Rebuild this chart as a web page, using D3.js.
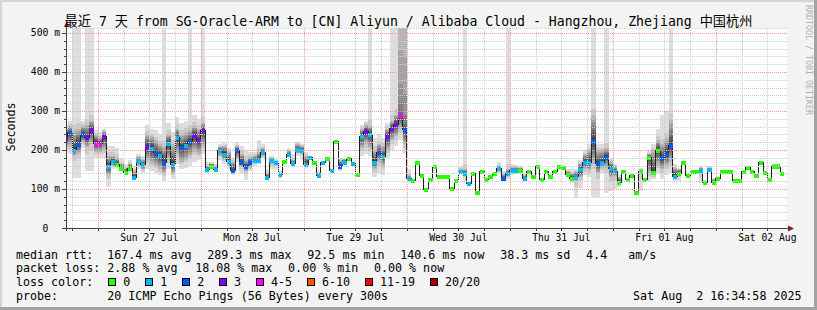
<!DOCTYPE html>
<html>
<head>
<meta charset="utf-8">
<script src="https://cdn.jsdelivr.net/npm/d3@7"></script>
<style>
  body { margin: 0; background: #f3f3f3; }
  svg { display: block; }
  text { font-family: "DejaVu Sans Mono", "Noto Sans CJK SC", monospace; white-space: pre; }
</style>
</head>
<body>
<div id="chart"></div>
<script>
const width = 817;
const height = 310;
const plot = { left: 66, right: 787, top: 28, bottom: 228 };
const yTop = 512.8;          // ms at the top edge of the canvas
const charW = 7.02;          // legend char advance

const title = "最近 7 天 from SG-Oracle-ARM to [CN] Aliyun / Alibaba Cloud - Hangzhou, Zhejiang 中国杭州";
const start = new Date(Date.UTC(2025, 6, 26, 16, 34, 58));
const end = new Date(Date.UTC(2025, 7, 2, 16, 34, 58));
const firstBin = Date.UTC(2025, 6, 26, 16, 0, 0);   // hourly bins
const yTicks = [0, 100, 200, 300, 400, 500];

// median rtt per hour (ms)
const medians = [
  230, 245, 200, 216, 241, 233, 252, 219,
  218, 236, 159, 173, 164, 153, 144, 155, 132, 175, 164, 211, 206, 194, 188, 168, 218, 164, 233, 207, 213, 224, 239, 226,
  250, 151, 160, 151, 200, 191, 172, 149, 200, 170, 158, 168, 175, 175, 195, 132, 174, 168, 138, 172, 190, 166, 202, 201,
  165, 181, 168, 137, 169, 179, 149, 222, 159, 170, 180, 166, 138, 236, 248, 241, 169, 194, 185, 236, 256, 267, 289.3, 254,
  128, 123, 168, 136, 100, 125, 158, 134, 134, 134, 102, 123, 146, 142, 115, 142, 93, 145, 125, 134, 142, 153, 129, 141,
  148, 149, 149, 129, 146, 134, 158, 125, 146, 134, 145, 160, 156, 139, 129, 134, 151, 170, 170, 224, 166, 169, 183, 153,
  145, 119, 146, 126, 136, 92.5, 146, 125, 183, 143, 200, 181, 190, 213, 134, 142, 169, 137, 145, 147, 149, 117, 151, 117,
  128, 147, 145, 147, 123, 123, 147, 156, 147, 135, 169, 144, 125, 159, 160, 140.6
];

// lost pings (of 20) per hour
const lostPings = [
  3, 2, 1, 2, 2, 3, 3, 4,
  4, 3, 1, 1, 0, 0, 0, 0, 1, 1, 1, 3, 1, 2, 1, 2, 1, 1, 1, 2, 1, 2, 3, 3,
  3, 1, 0, 1, 1, 1, 1, 2, 2, 2, 2, 2, 1, 1, 1, 1, 1, 1, 1, 0, 1, 1, 1, 1,
  1, 1, 0, 1, 1, 0, 1, 0, 2, 1, 0, 1, 0, 1, 3, 1, 1, 2, 1, 3, 3, 3, 4, 2,
  1, 0, 0, 0, 0, 0, 0, 0, 0, 0, 0, 0, 1, 1, 1, 0, 0, 0, 0, 0, 0, 1, 2, 1,
  1, 1, 0, 1, 0, 0, 0, 0, 0, 0, 0, 0, 0, 0, 0, 1, 1, 1, 1, 2, 2, 1, 2, 1,
  1, 0, 0, 0, 0, 0, 0, 0, 0, 0, 0, 2, 2, 2, 1, 0, 0, 0, 0, 0, 1, 0, 1, 0,
  0, 0, 0, 0, 0, 0, 0, 0, 0, 0, 0, 0, 0, 0, 0, 0
];

// smoke: lowest, 3rd lowest, 3rd highest, highest ping per hour (ms); _ = no visible smoke
const _ = null;
const pingMin = [
  195, 190, 128, 128, 205, 145, 145, 180,
  180, 180, 106, 150, 155, 145, 138, 148, 125, 150, 140, 150, 145, 140, 135, 120, 150, 125, 165, 150, 155, 160, 170, 175,
  190, 140, 155, 145, 175, 165, 150, 135, 170, 140, 123, 145, 160, 165, 180, 123, 150, 150, 128, _, 183, 160, 185, 175,
  155, _, _, 130, _, _, _, _, 145, 163, _, _, _, 185, 190, 185, 130, 140, 135, 180, 200, 210, 225, 190,
  120, _, _, _, _, _, _, _, _, _, _, _, 140, 119, _, _, _, _, _, _, _, 140, 120, 125,
  135, 138, 140, 122, _, _, _, _, _, _, _, _, _, 132, 115, 78, 103, 135, 130, 80, 78, 140, 90, 95,
  100, 105, _, _, _, _, 95, _, 120, 125, 140, 125, 135, 140, 120, 120, _, _, _, _, 115, 113, 145, 110,
  _, _, _, _, _, _, _, _, _, _, _, _, _, 155, 156, _
];
const pingLow = [
  210, 210, 185, 190, 220, 205, 215, 195,
  195, 200, 135, 160, 160, 150, 142, 152, 128, 160, 150, 175, 165, 160, 150, 140, 175, 140, 190, 170, 175, 185, 195, 190,
  210, 145, 157, 148, 185, 175, 160, 140, 180, 158, 145, 155, 168, 170, 185, 126, 165, 162, 133, _, 186, 163, 192, 192,
  160, _, _, 134, _, _, _, _, 152, 166, _, _, _, 205, 215, 205, 150, 170, 160, 200, 225, 235, 255, 215,
  124, _, _, _, _, _, _, _, _, _, _, _, 143, 138, _, _, _, _, _, _, _, 146, 124, 135,
  140, 143, 144, 125, _, _, _, _, _, _, _, _, _, 135, 122, 120, 130, 150, 148, 165, 140, 155, 155, 130,
  133, 112, _, _, _, _, 140, _, 140, 135, 160, 150, 160, 170, 128, 135, _, _, _, _, 140, 115, 148, 112,
  _, _, _, _, _, _, _, _, _, _, _, _, _, 157, 158, _
];
const pingHigh = [
  255, 262, 250, 255, 262, 265, 275, 240,
  232, 248, 185, 185, 180, 165, 155, 165, 145, 182, 175, 240, 235, 225, 215, 210, 240, 215, 255, 240, 245, 250, 262, 255,
  270, 160, 165, 158, 208, 210, 195, 170, 210, 190, 175, 182, 185, 195, 205, 140, 180, 172, 142, _, 198, 175, 215, 210,
  185, _, _, 141, _, _, _, _, 175, 176, _, _, _, 255, 265, 262, 200, 215, 210, 255, 275, 290, 600, 600,
  135, _, _, _, _, _, _, _, _, _, _, _, 150, 150, _, _, _, _, _, _, _, 160, 138, 150,
  156, 156, 154, 135, _, _, _, _, _, _, _, _, _, 145, 141, 145, 165, 190, 200, 290, 200, 200, 205, 170,
  158, 130, _, _, _, _, 150, _, 190, 200, 225, 215, 230, 280, 155, 150, _, _, _, _, 155, 120, 155, 125,
  _, _, _, _, _, _, _, _, _, _, _, _, _, 163, 163, _
];
const pingMax = [
  265, 275, 600, 600, 275, 600, 600, 250,
  245, 255, 210, 210, 205, 180, 165, 175, 160, 190, 185, 265, 255, 250, 240, 600, 270, 245, 285, 270, 275, 600, 290, 280,
  600, 170, 170, 165, 215, 218, 205, 180, 220, 210, 200, 195, 195, 226, 215, 150, 185, 178, 148, _, 205, 190, 220, 215,
  195, _, _, 145, _, _, _, _, 180, 180, _, _, _, 265, 275, 600, 230, 240, 230, 270, 600, 600, 600, 600,
  150, _, _, _, _, _, _, _, _, _, _, _, 160, 600, _, _, _, _, _, _, _, 168, 145, 600,
  165, 162, 160, 140, _, _, _, _, _, _, _, _, _, 150, 150, 150, 175, 200, 215, 600, 215, 215, 600, 180,
  165, 135, _, _, _, _, 155, _, 200, 215, 255, 290, 300, 600, 165, 155, _, _, _, _, 159, 123, 159, 128,
  _, _, _, _, _, _, _, _, _, _, _, _, _, 165, 166, _
];

const lossColors = ["#26ff00", "#00b8ff", "#0059ff", "#7e00ff", "#ff00ff", "#ff5500", "#ff0000", "#a10000"];
const lossLabels = ["0", "1", "2", "3", "4-5", "6-10", "11-19", "20/20"];

const legendRtt = [["median rtt:", 16], ["167.4 ms avg", 107.3], ["289.3 ms max", 207.3], ["92.5 ms min", 307.3],
                   ["140.6 ms now", 400.2], ["38.3 ms sd", 500.2], ["4.4   am/s", 586.1]];
const legendLoss = [["packet loss:", 16], ["2.88 % avg", 107.3], ["18.08 % max", 195.2], ["0.00 % min", 288.1], ["0.00 % now", 374]];

function lossClass(n) {
  if (n <= 3) return n;
  if (n <= 5) return 4;
  if (n <= 10) return 5;
  if (n <= 19) return 6;
  return 7;
}

const x = d3.scaleUtc().domain([start, end]).range([plot.left, plot.right]);
const y = d3.scaleLinear().domain([0, yTop]).range([plot.bottom, plot.top]).clamp(true);
const binTime = i => new Date(firstBin + i * 3600e3);
const bx0 = i => Math.max(plot.left, x(binTime(i)));
const bx1 = i => Math.min(plot.right, x(binTime(i + 1)));

const svg = d3.select("#chart")
  .append("svg")
    .attr("width", width)
    .attr("height", height)
    .attr("viewBox", [0, 0, width, height]);

// canvas + frame
svg.append("rect").attr("width", width).attr("height", height).attr("fill", "#f3f3f3");
svg.append("rect").attr("width", width).attr("height", 2).attr("fill", "#d4d4d4");
svg.append("rect").attr("width", 2).attr("height", height).attr("fill", "#d4d4d4");
svg.append("rect").attr("y", height - 3).attr("width", width).attr("height", 3).attr("fill", "#a2a2a2");
svg.append("rect").attr("x", width - 3).attr("width", 3).attr("height", height).attr("fill", "#a2a2a2");

svg.append("rect")
  .attr("x", plot.left).attr("y", plot.top)
  .attr("width", plot.right - plot.left).attr("height", plot.bottom - plot.top)
  .attr("fill", "#fff");

svg.append("clipPath").attr("id", "clip")
  .append("rect")
    .attr("x", plot.left).attr("y", plot.top)
    .attr("width", plot.right - plot.left).attr("height", plot.bottom - plot.top);

const bins = d3.range(medians.length);

// smoke: band k spans k-th lowest .. k-th highest ping, lighter outside
const smoke = [];
bins.forEach(i => {
  if (pingMin[i] == null) return;
  const m = medians[i], lo = pingLow[i], hi = pingHigh[i], mn = pingMin[i], mx = pingMax[i];
  const pUp = hi - m > 120 ? 4 : 1;     // many pings off the scale: keep the dark core tight
  smoke.push({ i, k: 1, a: mn, b: mx });
  smoke.push({ i, k: 2, a: lo - Math.min(lo - mn, 40) * 0.35, b: hi + Math.min(mx - hi, 40) * 0.35 });
  for (let k = 3; k <= 9; k++) {
    const f = (10 - k) / 7;
    smoke.push({ i, k, a: m + (lo - m) * f, b: m + (hi - m) * Math.pow(f, pUp) });
  }
});
smoke.sort((p, q) => p.k - q.k);

const gPlot = svg.append("g").attr("clip-path", "url(#clip)");
gPlot.append("g").attr("shape-rendering", "crispEdges")
  .selectAll("rect")
  .data(smoke)
  .enter().append("rect")
    .attr("x", d => bx0(d.i))
    .attr("width", d => bx1(d.i) - bx0(d.i))
    .attr("y", d => y(d.b))
    .attr("height", d => Math.max(0, y(d.a) - y(d.b)))
    .attr("fill", d => { const g = Math.round(190 / 10 * (10 - d.k) + 50); return d3.rgb(g, g, g); });

// grid
const grid = svg.append("g").attr("fill", "none").attr("stroke-dasharray", "1,1");
const minorY = d3.range(20, 520, 20).filter(v => v % 100 !== 0);
grid.selectAll(".hmin").data(minorY.concat([yTop])).enter().append("line")
  .attr("x1", plot.left).attr("x2", plot.right)
  .attr("y1", d => Math.round(y(d)) + 0.5).attr("y2", d => Math.round(y(d)) + 0.5)
  .attr("stroke", "#cfcfcf");
const hours6 = d3.utcHour.every(6).range(start, end).filter(d => d.getUTCHours() !== 0);
grid.selectAll(".vmin").data(hours6).enter().append("line")
  .attr("x1", d => Math.round(x(d)) + 0.5).attr("x2", d => Math.round(x(d)) + 0.5)
  .attr("y1", plot.top).attr("y2", plot.bottom)
  .attr("stroke", "#cfcfcf");
grid.selectAll(".hmaj").data(yTicks.filter(v => v > 0)).enter().append("line")
  .attr("x1", plot.left).attr("x2", plot.right)
  .attr("y1", d => Math.round(y(d)) + 0.5).attr("y2", d => Math.round(y(d)) + 0.5)
  .attr("stroke", "#f09a9a");
const days = d3.utcDay.range(start, end);
grid.selectAll(".vmaj").data(days).enter().append("line")
  .attr("x1", d => Math.round(x(d)) + 0.5).attr("x2", d => Math.round(x(d)) + 0.5)
  .attr("y1", plot.top).attr("y2", plot.bottom)
  .attr("stroke", "#f09a9a");

// median line
const linePts = bins.map(i => [binTime(i), medians[i]]);
linePts.push([binTime(medians.length), medians[medians.length - 1]]);
gPlot.append("path")
  .datum(linePts)
  .attr("fill", "none")
  .attr("stroke", "#202020")
  .attr("stroke-width", 1)
  .attr("shape-rendering", "crispEdges")
  .attr("d", d3.line().x(d => x(d[0])).y(d => Math.round(y(d[1])) + 0.5).curve(d3.curveStepAfter));

// loss coloured median marks
gPlot.append("g").attr("shape-rendering", "crispEdges")
  .selectAll("rect")
  .data(bins)
  .enter().append("rect")
    .attr("x", i => bx0(i))
    .attr("width", i => bx1(i) - bx0(i))
    .attr("y", i => Math.round(y(medians[i])) - 1.5)
    .attr("height", 4)
    .attr("fill", i => lossColors[lossClass(lostPings[i])]);

// axes
const axis = svg.append("g").attr("stroke", "#404040").attr("shape-rendering", "crispEdges");
axis.append("line").attr("x1", plot.left + 0.5).attr("x2", plot.left + 0.5).attr("y1", plot.bottom + 3).attr("y2", 23);
axis.append("line").attr("x1", plot.left - 4).attr("x2", plot.right + 3).attr("y1", plot.bottom + 0.5).attr("y2", plot.bottom + 0.5);
axis.selectAll(".ty").data(d3.range(20, 520, 20)).enter().append("line")
  .attr("x1", d => d % 100 === 0 ? plot.left - 4 : plot.left - 2).attr("x2", plot.left)
  .attr("y1", d => Math.round(y(d)) + 0.5).attr("y2", d => Math.round(y(d)) + 0.5);
axis.selectAll(".tx").data(d3.utcHour.every(6).range(start, end)).enter().append("line")
  .attr("x1", d => Math.round(x(d)) + 0.5).attr("x2", d => Math.round(x(d)) + 0.5)
  .attr("y1", plot.bottom).attr("y2", plot.bottom + 3);
svg.append("path").attr("fill", "#8e1b1b")
  .attr("d", `M${plot.left - 2},27L${plot.left + 3},27L${plot.left + 0.5},21Z`);
svg.append("path").attr("fill", "#8e1b1b")
  .attr("d", `M${plot.right + 1},225.5L${plot.right + 1},231.5L${plot.right + 7},228.5Z`);

// tick labels
svg.append("g").selectAll("text").data(yTicks).enter().append("text")
  .attr("x", 60).attr("y", d => y(d) + 3.5)
  .attr("text-anchor", "end").attr("font-size", "9.7px").attr("fill", "#000")
  .text(d => d === 0 ? "0  " : d + " m");
const noons = d3.utcDay.range(d3.utcDay.floor(start), end)
  .map(d => d3.utcHour.offset(d, 12))
  .filter(d => d > start && d < end);
svg.append("g").selectAll("text").data(noons).enter().append("text")
  .attr("x", d => x(d)).attr("y", 240.7)
  .attr("text-anchor", "middle").attr("font-size", "9.7px").attr("fill", "#000")
  .text(d3.utcFormat("%a %d %b"));

// title, y label, watermark
svg.append("text").attr("x", 408.5).attr("y", 26).attr("text-anchor", "middle")
  .attr("font-size", "13.2px").attr("fill", "#000").text(title);
svg.append("text").attr("transform", "translate(15,127) rotate(-90)")
  .attr("text-anchor", "middle").attr("font-size", "11.66px").attr("fill", "#000").text("Seconds");
svg.append("text").attr("transform", "translate(805.5,5) rotate(90)")
  .attr("font-size", "8.3px").attr("fill", "#b0b0b0").text("RRDTOOL / TOBI OETIKER");

// legend
const leg = svg.append("g").attr("font-size", "11.66px").attr("fill", "#000");
leg.selectAll(".r1").data(legendRtt).enter().append("text")
  .attr("x", d => d[1]).attr("y", 258.5).text(d => d[0]);
leg.selectAll(".r2").data(legendLoss).enter().append("text")
  .attr("x", d => d[1]).attr("y", 272.4).text(d => d[0]);
leg.append("text").attr("x", 16).attr("y", 286.3).text("loss color:");
let sx = 108.3;
lossLabels.forEach((lab, j) => {
  leg.append("rect")
    .attr("x", sx + 0.5).attr("y", 278.5).attr("width", 7).attr("height", 7)
    .attr("fill", lossColors[j]).attr("stroke", "#000").attr("stroke-width", 1)
    .attr("shape-rendering", "crispEdges");
  leg.append("text").attr("x", sx + 15).attr("y", 286.3).text(lab);
  sx += 15 + lab.length * charW + 14.9;
});
leg.append("text").attr("x", 16).attr("y", 300.2).text("probe:");
leg.append("text").attr("x", 107.3).attr("y", 300.2).text("20 ICMP Echo Pings (56 Bytes) every 300s");
leg.append("text").attr("x", 801.5).attr("y", 300.2).attr("text-anchor", "end").text("Sat Aug  2 16:34:58 2025");
</script>
</body>
</html>
